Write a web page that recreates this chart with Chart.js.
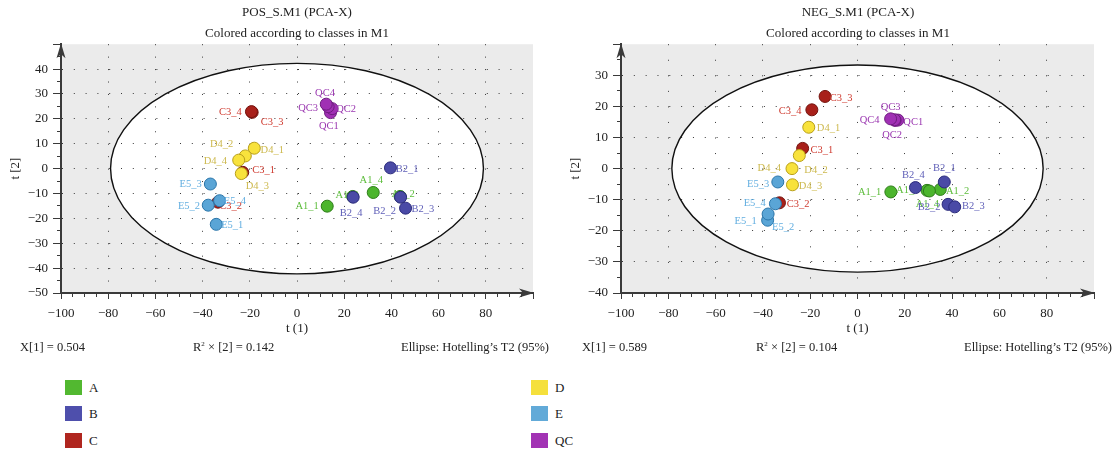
<!DOCTYPE html>
<html>
<head>
<meta charset="utf-8">
<script src="https://cdn.jsdelivr.net/npm/chart.js@4.4.1/dist/chart.umd.min.js"></script>
<style>
  html, body { margin: 0; padding: 0; overflow: hidden; background: #fff; }
  body { width: 1117px; height: 458px; position: relative; font-family: "Liberation Serif", "DejaVu Serif", serif; color: #222; }
  canvas { position: absolute; top: 0; }
  #posChart { left: 0; }
  #negChart { left: 560px; }
  .stat { position: absolute; top: 339px; font-size: 12.5px; line-height: 16px; white-space: nowrap; }
  .stat sup { font-size: 7px; vertical-align: 5px; line-height: 0; }
  .key { position: absolute; font-size: 13px; line-height: 15px; white-space: nowrap; }
  .key i { display: inline-block; width: 17px; height: 15px; vertical-align: top; margin-right: 7px; }
</style>
</head>
<body>
<canvas id="posChart" width="594" height="340"></canvas>
<canvas id="negChart" width="596" height="340"></canvas>
<div id="stats"></div>
<div id="keys"></div>
<script>
// classes and sample names
const classNames = ["A", "B", "C", "D", "E", "QC"];
const sampleA = ["A1_1", "A1_2", "A1_3", "A1_4"];
const sampleB = ["B2_1", "B2_2", "B2_3", "B2_4"];
const sampleC = ["C3_1", "C3_2", "C3_3", "C3_4"];
const sampleD = ["D4_1", "D4_2", "D4_3", "D4_4"];
const sampleE = ["E5_1", "E5_2", "E5_3", "E5_4"];
const sampleQC = ["QC1", "QC2", "QC3", "QC4"];

// POS model scores: t[1], t[2]
const posA_t1 = [12.8, 43.7, 23.6, 32.3];
const posA_t2 = [-15.1, -11.2, -11.2, -9.6];
const posB_t1 = [39.6, 43.9, 46.0, 23.8];
const posB_t2 = [0.3, -11.5, -15.9, -11.5];
const posC_t1 = [-23.0, -33.5, -19.0, -19.3];
const posC_t2 = [-1.5, -13.5, 22.6, 22.9];
const posD_t1 = [-18.1, -21.9, -23.6, -24.7];
const posD_t2 = [8.2, 5.1, -2.0, 3.4];
const posE_t1 = [-34.2, -37.6, -36.7, -32.8];
const posE_t2 = [-22.4, -14.7, -6.2, -12.9];
const posQC_t1 = [14.2, 14.9, 13.2, 12.4];
const posQC_t2 = [22.5, 24.1, 24.9, 25.9];

// NEG model scores: t[1], t[2]
const negA_t1 = [14.1, 35.0, 29.4, 30.4];
const negA_t2 = [-7.5, -6.7, -7.0, -7.2];
const negB_t1 = [36.7, 38.3, 41.1, 24.5];
const negB_t2 = [-4.3, -11.5, -12.3, -6.1];
const negC_t1 = [-23.2, -33.0, -13.7, -19.3];
const negC_t2 = [6.5, -11.0, 23.2, 18.9];
const negD_t1 = [-20.6, -24.6, -27.5, -27.7];
const negD_t2 = [13.3, 4.2, -5.2, 0.0];
const negE_t1 = [-38.0, -37.8, -33.7, -34.7];
const negE_t2 = [-16.6, -14.6, -4.3, -11.3];
const negQC_t1 = [17.1, 15.9, 15.7, 14.0];
const negQC_t2 = [15.6, 15.5, 15.7, 16.0];

// model summaries
const posX1 = 0.504, posR2 = 0.142;
const negX1 = 0.589, negR2 = 0.104;

// axis ranges
const posX = [-100, 100], posY = [-50, 50];
const negX = [-100, 100], negY = [-40, 40];

// Hotelling's T2 (95%) ellipse semi-axes in score units
const posEllipse = [79, 42.3];
const negEllipse = [78.5, 33.3];

// colours per class
const classFill = ["#4cb52d", "#4a4aa6", "#a8201a", "#f8e23c", "#5aa5d6", "#a030b4"];
const classEdge = ["#2e7d19", "#2b2b7c", "#74140f", "#b9a01a", "#2b76aa", "#6f1d80"];
const classText = ["#5dbd3c", "#5f5fb8", "#cf3a2f", "#cdb94e", "#62aee0", "#9a36b0"];
const classKey = ["#52b830", "#4e4fac", "#b0261f", "#f5e03c", "#62aad8", "#a233b4"];

// where each sample name sits relative to its marker, px
const posLabelOffset = {
    A1_1: [-20, 0], A1_2: [3, -2], A1_3: [-5.5, -1], A1_4: [-2, -12.7],
    B2_1: [16.7, 1.7], B2_2: [-16, 14.3], B2_3: [17.3, 1], B2_4: [-2, 16],
    C3_1: [21, -1.7], C3_2: [12.6, 4.3], C3_3: [20, 9.6], C3_4: [-21, 1],
    D4_1: [18, 2], D4_2: [-23.7, -11.3], D4_3: [16, 12.7], D4_4: [-23.3, 1],
    E5_1: [16, 1.3], E5_2: [-19.3, 1.4], E5_3: [-19.8, 0], E5_4: [15.3, 0.7],
    QC1: [-1.7, 13.3], QC2: [14, 0.7], QC3: [-20, 2], QC4: [-1.3, -11]
};
const negLabelOffset = {
    A1_1: [-21.3, 0], A1_2: [17.3, 1.7], A1_3: [-19.3, 0], A1_4: [-2, 13.3],
    B2_1: [0, -13.3], B2_2: [-19, 2.7], B2_3: [18.7, -0.7], B2_4: [-2, -12.3],
    C3_1: [19.3, 2.3], C3_2: [18.7, 1], C3_3: [16, 1.7], C3_4: [-21.7, 1.3],
    D4_1: [19.7, 1], D4_2: [16.7, 14.3], D4_3: [18, 1.3], D4_4: [-22.7, 0],
    E5_1: [-22, 1], E5_2: [15, 13.3], E5_3: [-19.7, 2.7], E5_4: [-20.7, 0],
    QC1: [15.3, 2], QC2: [-3, 15], QC3: [-4, -13], QC4: [-21, 1.7]
};

const serif = '"Liberation Serif", "DejaVu Serif", serif';
Chart.defaults.font.family = serif;
Chart.defaults.color = "#222";

const axisColor = "#3a3a3a";
const dotColor = "#3a3a3a";

function fmt(v) {
    return v < 0 ? "\u2212" + Math.abs(v) : String(v);
}

function pair(t1, t2) {
    return t1.map((v, i) => ({ x: v, y: t2[i] }));
}

// classes are painted A first, QC last
function makeDatasets(names, scores) {
    return classNames.map((c, k) => ({
        label: c,
        order: classNames.length - k,
        names: names[k],
        textColor: classText[k],
        data: pair(scores[k][0], scores[k][1]),
        backgroundColor: classFill[k],
        borderColor: classEdge[k],
        borderWidth: 1,
        pointRadius: 6,
        pointHoverRadius: 6
    }));
}

// sample names are drawn right after their own class so later classes cover them
const pointNames = {
    id: "pointNames",
    afterDatasetDraw(chart, args, opts) {
        const ds = chart.data.datasets[args.index];
        const ctx = chart.ctx;
        ctx.save();
        ctx.font = "10.5px " + serif;
        ctx.fillStyle = ds.textColor;
        ctx.textAlign = "center";
        ctx.textBaseline = "middle";
        args.meta.data.forEach((pt, i) => {
            const name = ds.names[i];
            const off = opts.offsets[name] || [0, 0];
            ctx.fillText(name, pt.x + off[0], pt.y + off[1]);
        });
        ctx.restore();
    }
};

// grey plot background, white ellipse region, ellipse outline and axis arrows
const frame = {
    id: "frame",
    beforeDraw(chart, args, opts) {
        const { ctx, chartArea: a, scales: { x, y } } = chart;
        ctx.save();
        ctx.fillStyle = "#ebebeb";
        ctx.fillRect(a.left, a.top, a.right - a.left, a.bottom - a.top);
        ctx.beginPath();
        ctx.ellipse(x.getPixelForValue(0), y.getPixelForValue(0),
            x.getPixelForValue(opts.radii[0]) - x.getPixelForValue(0),
            y.getPixelForValue(0) - y.getPixelForValue(opts.radii[1]), 0, 0, Math.PI * 2);
        ctx.fillStyle = "#fff";
        ctx.fill();
        ctx.restore();
    },
    beforeDatasetsDraw(chart, args, opts) {
        const { ctx, chartArea: a, scales: { x, y } } = chart;
        ctx.save();
        ctx.beginPath();
        ctx.ellipse(x.getPixelForValue(0), y.getPixelForValue(0),
            x.getPixelForValue(opts.radii[0]) - x.getPixelForValue(0),
            y.getPixelForValue(0) - y.getPixelForValue(opts.radii[1]), 0, 0, Math.PI * 2);
        ctx.strokeStyle = "#111";
        ctx.lineWidth = 1.4;
        ctx.stroke();

        ctx.fillStyle = axisColor;
        const ax = Math.round(a.left);
        const top = a.top - 1;
        ctx.beginPath();
        ctx.moveTo(ax, top);
        ctx.lineTo(ax + 4.5, top + 15);
        ctx.lineTo(ax, top + 11);
        ctx.lineTo(ax - 4.5, top + 15);
        ctx.closePath();
        ctx.fill();

        const ay = Math.round(a.bottom);
        const right = a.right + 1;
        ctx.beginPath();
        ctx.moveTo(right, ay);
        ctx.lineTo(right - 15, ay - 4.5);
        ctx.lineTo(right - 11, ay);
        ctx.lineTo(right - 15, ay + 4.5);
        ctx.closePath();
        ctx.fill();
        ctx.restore();
    }
};

function stepPx(scale) {
    return Math.abs(scale.getPixelForValue(5) - scale.getPixelForValue(0));
}

function buildChart(id, title, datasets, xr, yr, radii, offsets, rightPad) {
    return new Chart(document.getElementById(id), {
        type: "scatter",
        data: { datasets: datasets },
        plugins: [frame, pointNames],
        options: {
            responsive: false,
            animation: false,
            layout: { padding: 0 },
            plugins: {
                legend: { display: false },
                tooltip: { enabled: false },
                title: {
                    display: true,
                    text: title,
                    color: "#222",
                    font: { size: 13, weight: "normal" },
                    padding: { top: 5, bottom: 5 }
                },
                subtitle: {
                    display: true,
                    text: "Colored according to classes in M1",
                    color: "#222",
                    font: { size: 13, weight: "normal" },
                    padding: { top: 0, bottom: 3 }
                },
                frame: { radii: radii },
                pointNames: { offsets: offsets }
            },
            scales: {
                x: {
                    type: "linear",
                    position: "bottom",
                    min: xr[0],
                    max: xr[1],
                    afterFit: s => { s.height = 47; },
                    border: {
                        color: axisColor,
                        width: 2,
                        dash: c => { const p = stepPx(c.chart.scales.y); return [1, p - 1]; }
                    },
                    grid: {
                        color: c => (!c.tick || (c.tick.value % 20 === 0 && c.tick.value > xr[0] && c.tick.value < xr[1])) ? dotColor : "rgba(0,0,0,0)",
                        lineWidth: 1,
                        tickColor: axisColor,
                        tickLength: 6,
                        tickBorderDash: c => (c.tick && c.tick.value % 20 === 0) ? [] : [3, 100]
                    },
                    ticks: {
                        stepSize: 5,
                        autoSkip: false,
                        maxRotation: 0,
                        minRotation: 0,
                        padding: 7,
                        color: "#222",
                        font: { size: 13 },
                        callback: v => (v % 20 === 0 && v < xr[1]) ? fmt(v) : ""
                    },
                    title: {
                        display: true,
                        text: "t (1)",
                        color: "#222",
                        font: { size: 13 },
                        padding: { top: 0, bottom: 4 }
                    }
                },
                y: {
                    type: "linear",
                    position: "left",
                    min: yr[0],
                    max: yr[1],
                    afterFit: s => { s.width = 61; },
                    border: {
                        color: axisColor,
                        width: 2,
                        dash: c => { const p = stepPx(c.chart.scales.x); return [1, p - 1]; }
                    },
                    grid: {
                        color: c => (!c.tick || (c.tick.value % 10 === 0 && c.tick.value > yr[0] && c.tick.value < yr[1])) ? dotColor : "rgba(0,0,0,0)",
                        lineWidth: 1,
                        tickColor: axisColor,
                        tickLength: 8,
                        tickBorderDash: c => (c.tick && c.tick.value % 10 === 0) ? [] : [0, 4, 3, 100]
                    },
                    ticks: {
                        stepSize: 5,
                        autoSkip: false,
                        padding: 5,
                        color: "#222",
                        font: { size: 13 },
                        callback: v => (v % 10 === 0 && v < yr[1]) ? fmt(v) : ""
                    },
                    title: {
                        display: true,
                        text: "t [2]",
                        color: "#222",
                        font: { size: 13 },
                        padding: { top: 8, bottom: 0 }
                    }
                },
                // empty right-hand box keeps the titles centred over the plot
                pad: {
                    type: "linear",
                    position: "right",
                    min: 0,
                    max: 1,
                    afterFit: s => { s.width = rightPad; },
                    grid: { display: false, drawTicks: false },
                    ticks: { display: false },
                    border: { display: false }
                }
            }
        }
    });
}

const posChart = buildChart("posChart", "POS_S.M1 (PCA-X)",
    makeDatasets([sampleA, sampleB, sampleC, sampleD, sampleE, sampleQC],
        [[posA_t1, posA_t2], [posB_t1, posB_t2], [posC_t1, posC_t2],
         [posD_t1, posD_t2], [posE_t1, posE_t2], [posQC_t1, posQC_t2]]),
    posX, posY, posEllipse, posLabelOffset, 61);

const negChart = buildChart("negChart", "NEG_S.M1 (PCA-X)",
    makeDatasets([sampleA, sampleB, sampleC, sampleD, sampleE, sampleQC],
        [[negA_t1, negA_t2], [negB_t1, negB_t2], [negC_t1, negC_t2],
         [negD_t1, negD_t2], [negE_t1, negE_t2], [negQC_t1, negQC_t2]]),
    negX, negY, negEllipse, negLabelOffset, 62);

// model summary lines under each plot
const statLines = [
    [20, `X[1] = ${posX1.toFixed(3)}`],
    [193, `R<sup>2</sup> × [2] = ${posR2.toFixed(3)}`],
    [401, "Ellipse: Hotelling’s T2 (95%)"],
    [582, `X[1] = ${negX1.toFixed(3)}`],
    [756, `R<sup>2</sup> × [2] = ${negR2.toFixed(3)}`],
    [964, "Ellipse: Hotelling’s T2 (95%)"]
];
const stats = document.getElementById("stats");
statLines.forEach(([left, html]) => {
    const el = document.createElement("div");
    el.className = "stat";
    el.style.left = left + "px";
    el.innerHTML = html;
    stats.appendChild(el);
});

// class key, two columns of three
const keys = document.getElementById("keys");
classNames.forEach((c, k) => {
    const el = document.createElement("div");
    el.className = "key";
    el.style.left = (k < 3 ? 65 : 531) + "px";
    el.style.top = [380, 406, 433][k % 3] + "px";
    el.innerHTML = `<i style="background:${classKey[k]}"></i>${c}`;
    keys.appendChild(el);
});
</script>
</body>
</html>
